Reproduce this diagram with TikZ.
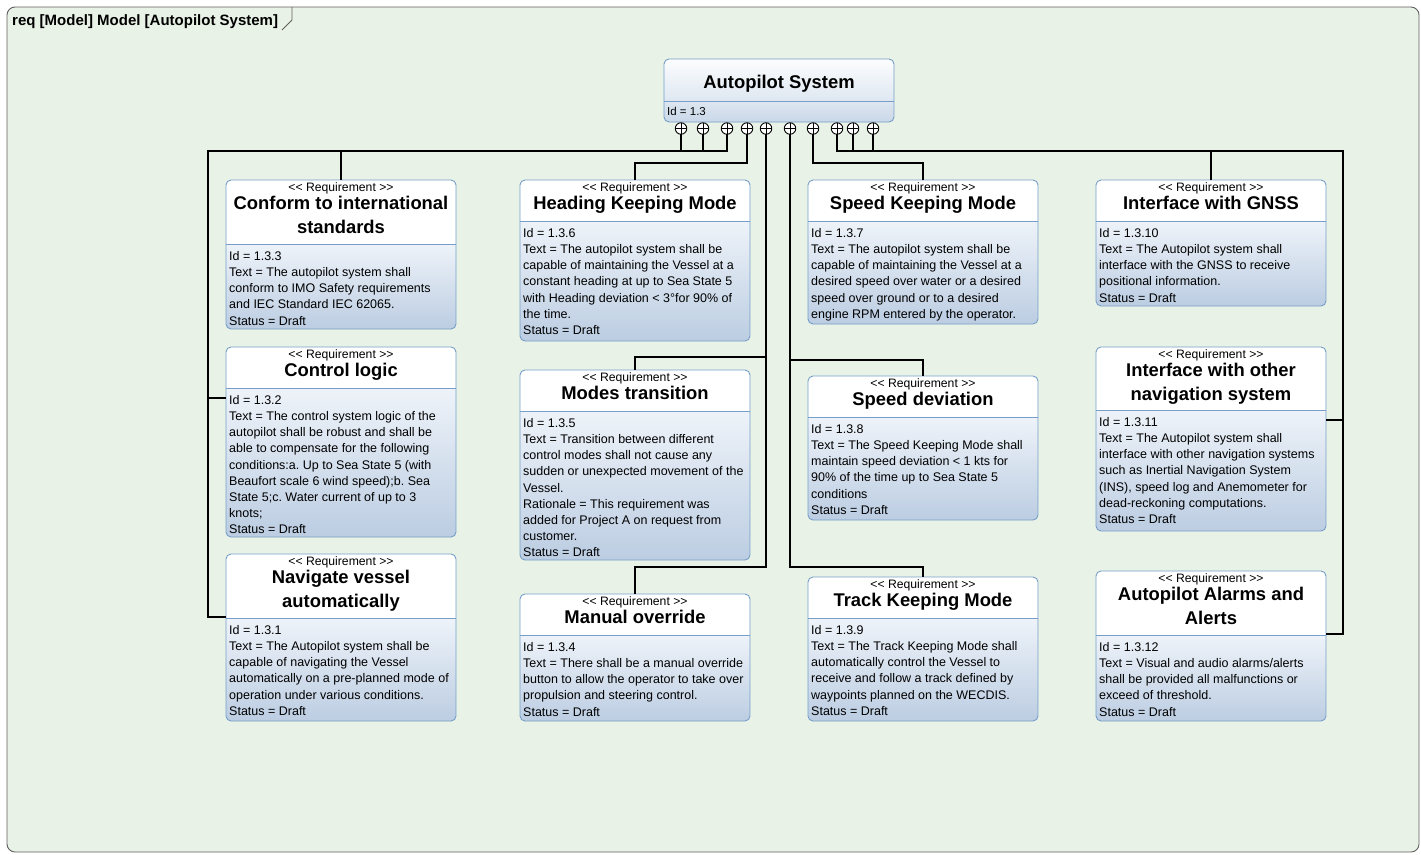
\documentclass[tikz,border=0pt]{standalone}
\usepackage{fontspec}
\setmainfont{Liberation Sans}
\usetikzlibrary{calc}
\frenchspacing

\definecolor{framebg}{RGB}{233,242,230}
\definecolor{framebd}{RGB}{95,95,95}
\definecolor{boxline}{RGB}{118,158,200}
\definecolor{bodytop}{RGB}{238,243,249}
\definecolor{bodybot}{RGB}{188,205,226}
\definecolor{headtop}{RGB}{252,253,254}
\definecolor{headbot}{RGB}{222,231,241}

\tikzset{
  reqbox/.style={draw=boxline, rounded corners=5pt, minimum width=230pt,
    inner sep=0pt, outer sep=0pt, line width=0.9pt},
  stereo/.style={font=\fontsize{12.2}{14}\selectfont, inner sep=0pt},
  reqtitle/.style={font=\fontsize{18.4}{24}\selectfont\bfseries, align=center, inner sep=0pt},
  reqbody/.style={font=\fontsize{12.5}{16.2}\selectfont, align=left, inner sep=0pt},
  wire/.style={line width=1.6pt, black},
  cont/.style={circle, draw=black, fill=white, line width=0.9pt, minimum size=11.5pt,
    inner sep=0pt, outer sep=0pt,
    path picture={\draw[line width=0.9pt]
      (path picture bounding box.north) -- (path picture bounding box.south)
      (path picture bounding box.west) -- (path picture bounding box.east);}},
}

% #1 name, #2 left, #3 top, #4 divider, #5 bottom, #6 title, #7 body
\newcommand\reqitem[7]{%
  \begin{scope}
    \clip[rounded corners=5pt] (#2,#3) rectangle (#2+230,#5);
    \fill[white] (#2,#3) rectangle (#2+230,#4);
    \shade[top color=bodytop, bottom color=bodybot] (#2,#4) rectangle (#2+230,#5);
  \end{scope}
  \draw[boxline, line width=0.9pt] (#2,#4) -- (#2+230,#4);
  \node[reqbox, minimum height={#5pt-#3pt}, anchor=north west] (#1) at (#2,#3) {};
  \node[stereo, anchor=base] (#1-st) at (#2+115,#3+11) {<\kern0pt< Requirement >\kern0pt>};
  \node[reqtitle, anchor=north] (#1-ti) at (#2+115,#3+16.2) {#6};
  \node[reqbody, anchor=north west] (#1-bd) at (#2+3,#4+7) {#7};
}

\begin{document}
\begin{tikzpicture}[x=1pt, y=-1pt]
\useasboundingbox (0,0) rectangle (1421,854);

% diagram frame with its name tab
\fill[framebg, rounded corners=8pt] (7,7) rectangle (1419,852);
\draw[framebd, line width=0.9pt, rounded corners=8pt] (7,7) rectangle (1419,852);
\draw[framebd, line width=0.9pt] (292,7) -- (292,20) -- (282,30);
\node[anchor=base west, inner sep=0pt, font=\fontsize{15}{18}\selectfont\bfseries]
  (framelabel) at (12,25.4) {req [Model] Model [Autopilot System]};

% parent requirement
\begin{scope}
  \clip[rounded corners=5pt] (664,59) rectangle (894,122);
  \shade[top color=headtop, bottom color=headbot] (664,59) rectangle (894,101);
  \shade[top color=headbot, bottom color=bodybot!80!white] (664,101) rectangle (894,122);
\end{scope}
\draw[boxline, line width=0.9pt] (664,101) -- (894,101);
\node[reqbox, minimum height=63pt, anchor=north west] (ap) at (664,59) {};
\node[reqtitle, anchor=base] (ap-ti) at (779,88.6) {Autopilot System};
\node[font=\fontsize{11.5}{14}\selectfont, anchor=base west, inner sep=0pt] (ap-id) at (667,115.5) {Id = 1.3};

% child requirements
\reqitem{conf}{226}{180}{244}{329}{Conform to international\\standards}{%
Id = 1.3.3\\
Text = The autopilot system shall\\
conform to IMO Safety requirements\\
and IEC Standard IEC 62065.\\
Status = Draft}

\reqitem{ctl}{226}{347}{388}{537}{Control logic}{%
Id = 1.3.2\\
Text = The control system logic of the\\
autopilot shall be robust and shall be\\
able to compensate for the following\\
conditions:a. Up to Sea State 5 (with\\
Beaufort scale 6 wind speed);b. Sea\\
State 5;c. Water current of up to 3\\
knots;\\
Status = Draft}

\reqitem{nav}{226}{554}{618}{721}{Navigate vessel\\automatically}{%
Id = 1.3.1\\
Text = The Autopilot system shall be\\
capable of navigating the Vessel\\
automatically on a pre-planned mode of\\
operation under various conditions.\\
Status = Draft}

\reqitem{head}{520}{180}{221}{341}{Heading Keeping Mode}{%
Id = 1.3.6\\
Text = The autopilot system shall be\\
capable of maintaining the Vessel at a\\
constant heading at up to Sea State 5\\
with Heading deviation < 3°for 90\% of\\
the time.\\
Status = Draft}

\reqitem{modes}{520}{370}{411}{560}{Modes transition}{%
Id = 1.3.5\\
Text = Transition between different\\
control modes shall not cause any\\
sudden or unexpected movement of the\\
Vessel.\\
Rationale = This requirement was\\
added for Project A on request from\\
customer.\\
Status = Draft}

\reqitem{man}{520}{594}{635}{721}{Manual override}{%
Id = 1.3.4\\
Text = There shall be a manual override\\
button to allow the operator to take over\\
propulsion and steering control.\\
Status = Draft}

\reqitem{skm}{808}{180}{221}{324}{Speed Keeping Mode}{%
Id = 1.3.7\\
Text = The autopilot system shall be\\
capable of maintaining the Vessel at a\\
desired speed over water or a desired\\
speed over ground or to a desired\\
engine RPM entered by the operator.}

\reqitem{sdev}{808}{376}{417}{520}{Speed deviation}{%
Id = 1.3.8\\
Text = The Speed Keeping Mode shall\\
maintain speed deviation < 1 kts for\\
90\% of the time up to Sea State 5\\
conditions\\
Status = Draft}

\reqitem{track}{808}{577}{618}{721}{Track Keeping Mode}{%
Id = 1.3.9\\
Text = The Track Keeping Mode shall\\
automatically control the Vessel to\\
receive and follow a track defined by\\
waypoints planned on the WECDIS.\\
Status = Draft}

\reqitem{gnss}{1096}{180}{221}{306}{Interface with GNSS}{%
Id = 1.3.10\\
Text = The Autopilot system shall\\
interface with the GNSS to receive\\
positional information.\\
Status = Draft}

\reqitem{onav}{1096}{347}{410}{531}{Interface with other\\navigation system}{%
Id = 1.3.11\\
Text = The Autopilot system shall\\
interface with other navigation systems\\
such as Inertial Navigation System\\
(INS), speed log and Anemometer for\\
dead-reckoning computations.\\
Status = Draft}

\reqitem{alarm}{1096}{571}{635}{721}{Autopilot Alarms and\\Alerts}{%
Id = 1.3.12\\
Text = Visual and audio alarms/alerts\\
shall be provided all malfunctions or\\
exceed of threshold.\\
Status = Draft}

% containment anchors under the parent
\foreach \n/\xx in {c1/681,c2/703,c3/727,c4/747,c5/766,c6/790,c7/813,c8/837,c9/853,c10/873}
  \node[cont] (\n) at (\xx,128.5) {};

% bend points of the containment lines
\coordinate (bl) at (208,151);
\coordinate (ka) at (341,151);
\coordinate (kb) at (635,163);
\coordinate (kc) at (635,357);
\coordinate (kd) at (635,567);
\coordinate (ke) at (923,360);
\coordinate (kf) at (923,567);
\coordinate (kg) at (923,163);
\coordinate (kh) at (1211,151);
\coordinate (br) at (1343,151);

% containment lines
\draw[wire] (c1.south) |- (bl) |- ([yshift=-63pt]nav.north west);
\draw[wire] (c2.south) |- (bl) |- ([yshift=-51pt]ctl.north west);
\draw[wire] (c3.south) |- (ka) -- (conf.north);
\draw[wire] (c4.south) |- (kb) -- (head.north);
\draw[wire] (c5.south) |- (kc) -- (modes.north);
\draw[wire] (c5.south) |- (kd) -- (man.north);
\draw[wire] (c6.south) |- (ke) -- (sdev.north);
\draw[wire] (c6.south) |- (kf) -- (track.north);
\draw[wire] (c7.south) |- (kg) -- (skm.north);
\draw[wire] (c8.south) |- (kh) -- (gnss.north);
\draw[wire] (c9.south) |- (br) |- ([yshift=-73pt]onav.north east);
\draw[wire] (c10.south) |- (br) |- ([yshift=-63pt]alarm.north east);

\end{tikzpicture}
\end{document}
